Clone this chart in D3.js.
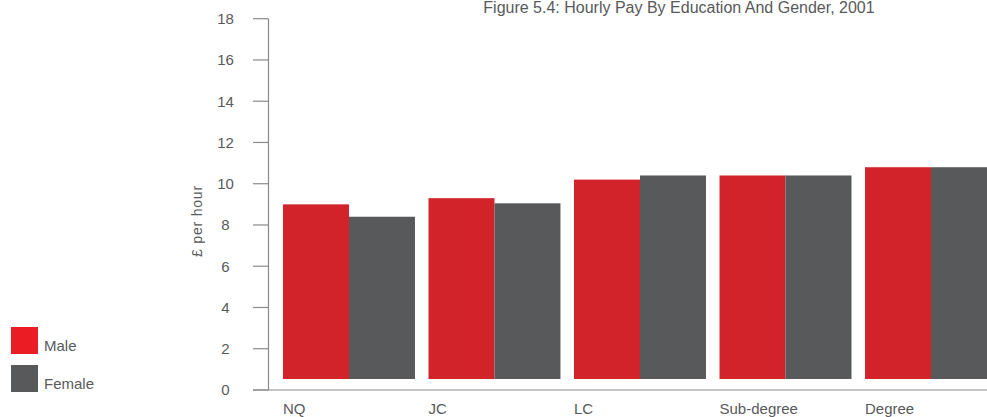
<!DOCTYPE html>
<html><head><meta charset="utf-8">
<script src="https://cdn.jsdelivr.net/npm/d3@7"></script>
<style>body{margin:0;background:#fff;}svg{display:block;font-family:"Liberation Sans",Arial,sans-serif;}</style>
</head><body>
<svg id="c" width="987" height="417"></svg>
<script>
const categories = ["NQ", "JC", "LC", "Sub-degree", "Degree"];
const seriesNames = ["Male", "Female"];
const male = [9.0, 9.3, 10.2, 10.4, 10.8];
const female = [8.4, 9.05, 10.4, 10.4, 10.8];
const yTicks = [0, 2, 4, 6, 8, 10, 12, 14, 16, 18];
const title = "Figure 5.4: Hourly Pay By Education And Gender, 2001";
const yLabel = "£ per hour";

const barColors = ["#d2232a", "#58595b"];
const legendColors = ["#ec1c24", "#58595b"];
const textColor = "#58595b";
const axisColor = "#8a8a8a";

const svg = d3.select("#c");
const y = d3.scaleLinear().domain([0, 18]).range([390, 18.7]);
const x = d3.scaleBand().domain(categories).range([283, 997]).paddingInner(0.093).paddingOuter(0);
const xs = d3.scaleBand().domain(seriesNames).range([0, x.bandwidth()]);
const barBottomGap = 11;

// title
svg.append("text").attr("x", 679).attr("y", 13).attr("text-anchor", "middle")
  .attr("font-size", 16).attr("fill", textColor).text(title);

// bars
const series = [male, female];
series.forEach((vals, si) => {
  svg.append("g").selectAll("rect").data(categories).join("rect")
    .attr("x", d => x(d) + xs(seriesNames[si]))
    .attr("width", xs.bandwidth())
    .attr("y", (d, i) => y(vals[i]))
    .attr("height", (d, i) => y(0) - barBottomGap - y(vals[i]))
    .attr("fill", barColors[si]);
});

// y axis
const ya = svg.append("g");
ya.append("line").attr("x1", 268.5).attr("x2", 268.5).attr("y1", y(18)).attr("y2", y(0))
  .attr("stroke", axisColor).attr("stroke-width", 1.2);
yTicks.forEach(t => {
  ya.append("line").attr("x1", 253).attr("x2", 268.5).attr("y1", y(t)).attr("y2", y(t))
    .attr("stroke", axisColor).attr("stroke-width", 1.2);
  ya.append("text").attr("x", 225.5).attr("y", y(t)).attr("dy", "0.36em").attr("text-anchor", "middle")
    .attr("font-size", 15).attr("fill", textColor).text(t);
});
// baseline
svg.append("line").attr("x1", 253).attr("x2", 987).attr("y1", y(0)).attr("y2", y(0))
  .attr("stroke", axisColor).attr("stroke-width", 1.2);

// y label
svg.append("text").attr("transform", "translate(202,221) rotate(-90)").attr("text-anchor", "middle")
  .attr("font-size", 14).attr("letter-spacing", 0.8).attr("fill", textColor).text(yLabel);

// x labels
svg.append("g").selectAll("text").data(categories).join("text")
  .attr("x", d => x(d)).attr("y", 413.5).attr("font-size", 15).attr("fill", textColor).text(d => d);

// legend
seriesNames.forEach((n, i) => {
  const ly = 327 + i * 38;
  svg.append("rect").attr("x", 11).attr("y", ly).attr("width", 27).attr("height", 27).attr("fill", legendColors[i]);
  svg.append("text").attr("x", 44).attr("y", ly + 24).attr("font-size", 15).attr("fill", textColor).text(n);
});
</script>
</body></html>
